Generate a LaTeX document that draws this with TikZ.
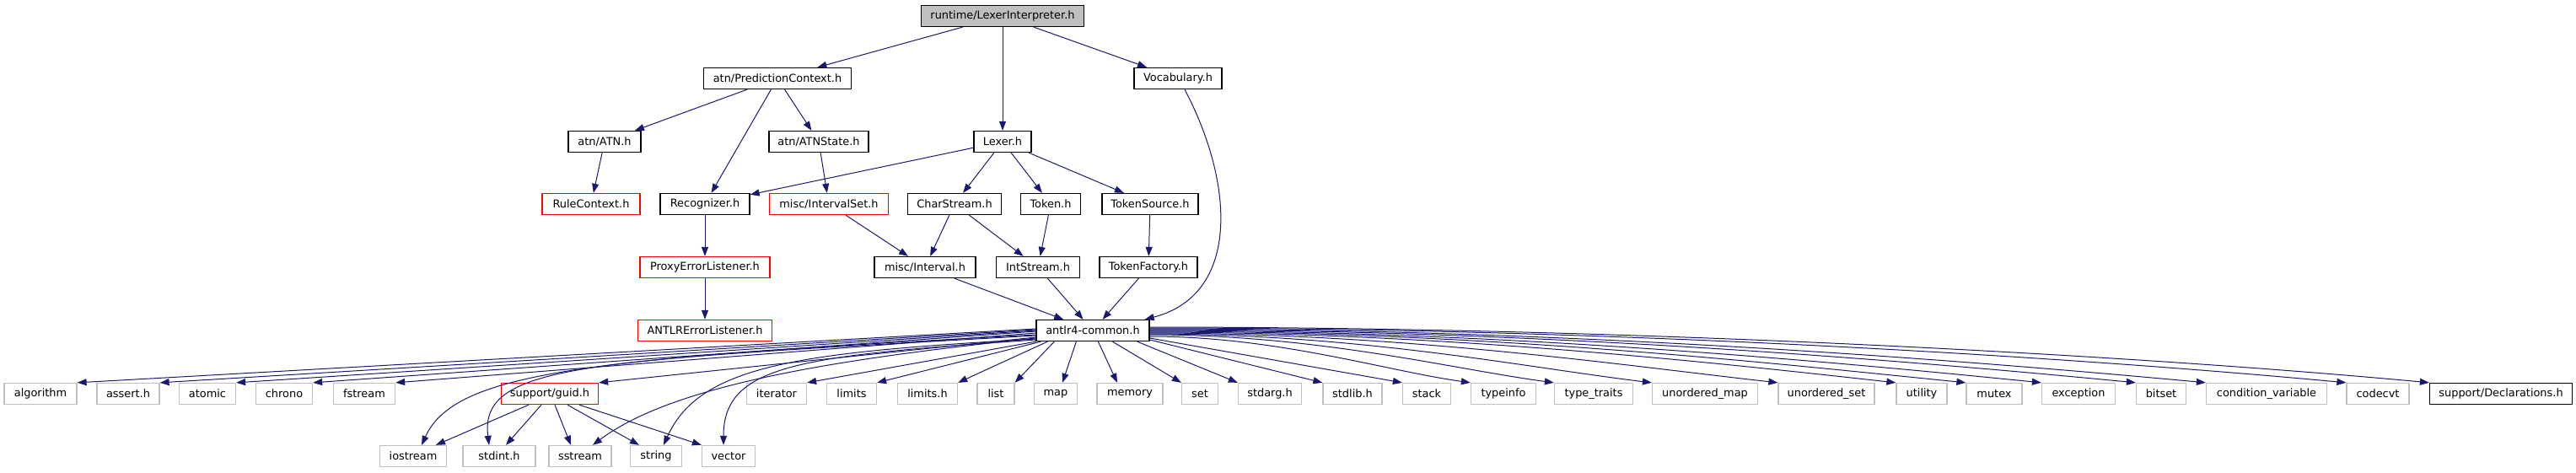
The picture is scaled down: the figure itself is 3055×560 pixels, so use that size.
\documentclass[tikz,border=0pt]{standalone}
\usepackage{fontspec}
\setmainfont{DejaVu Sans}
\usepackage{xcolor}
\usepackage{tikz}
\usetikzlibrary{arrows.meta, positioning, calc}

\definecolor{edgeblue}{HTML}{191970}
\definecolor{sysgray}{HTML}{BFBFBF}

\begin{document}
\begin{tikzpicture}[
    x=1pt, y=-1pt,
    every node/.style={font=\fontsize{12.9}{15}\selectfont, inner sep=0pt, minimum height=25pt},
    hdr/.style={draw=black, line width=1.3pt, fill=white, rectangle},
    missing/.style={draw=red, line width=1.3pt, fill=white, rectangle},
    sysh/.style={draw=sysgray, line width=1.3pt, fill=white, rectangle},
    root/.style={draw=black, line width=1.3pt, fill=sysgray, rectangle},
    dep/.style={draw=edgeblue, line width=1pt, -{Triangle[length=11pt, width=8pt]}}
]
    \useasboundingbox (0,0) rectangle (3055,560);

    % Project headers
    \node[root, minimum width=193pt] (root) at (1189,19) {runtime/LexerInterpreter.h};
    \node[hdr, minimum width=175pt] (pctx) at (922,93) {atn/PredictionContext.h};
    \node[hdr, minimum width=104pt] (vocab) at (1397,93) {Vocabulary.h};
    \node[hdr, minimum width=86pt] (atn) at (717,168) {atn/ATN.h};
    \node[hdr, minimum width=118pt] (atnstate) at (971,168) {atn/ATNState.h};
    \node[hdr, minimum width=68pt] (lexer) at (1189,168) {Lexer.h};
    \node[missing, minimum width=116pt] (rulectx) at (701,242) {RuleContext.h};
    \node[hdr, minimum width=106pt] (recog) at (836,242) {Recognizer.h};
    \node[missing, minimum width=141pt] (ivset) at (983,242) {misc/IntervalSet.h};
    \node[hdr, minimum width=111pt] (charstr) at (1132,242) {CharStream.h};
    \node[hdr, minimum width=71pt] (token) at (1246,242) {Token.h};
    \node[hdr, minimum width=114pt] (toksrc) at (1364,242) {TokenSource.h};
    \node[missing, minimum width=154pt] (proxy) at (836,317) {ProxyErrorListener.h};
    \node[hdr, minimum width=120pt] (interval) at (1097,317) {misc/Interval.h};
    \node[hdr, minimum width=99pt] (intstr) at (1231,317) {IntStream.h};
    \node[hdr, minimum width=116pt] (tokfac) at (1362,317) {TokenFactory.h};
    \node[missing, minimum width=159pt] (antlrerr) at (836,392) {ANTLRErrorListener.h};
    \node[hdr, minimum width=134pt] (common) at (1296,392) {antlr4-common.h};

    % Headers included by antlr4-common.h
    \node[sysh, minimum width=86pt] (algorithm) at (48,467) {algorithm};
    \node[sysh, minimum width=74pt] (assert) at (152,467) {assert.h};
    \node[sysh, minimum width=67pt] (atomic) at (246,467) {atomic};
    \node[sysh, minimum width=67pt] (chrono) at (337,467) {chrono};
    \node[sysh, minimum width=73pt] (fstream) at (432,467) {fstream};
    \node[missing, minimum width=115pt] (guid) at (652,467) {support/guid.h};
    \node[sysh, minimum width=71pt] (iterator) at (921,467) {iterator};
    \node[sysh, minimum width=59pt] (limits) at (1010,467) {limits};
    \node[sysh, minimum width=71pt] (limitsh) at (1100,467) {limits.h};
    \node[sysh, minimum width=44pt] (list) at (1181,467) {list};
    \node[sysh, minimum width=51pt] (map) at (1252,467) {map};
    \node[sysh, minimum width=78pt] (memory) at (1340,467) {memory};
    \node[sysh, minimum width=43pt] (set) at (1423,467) {set};
    \node[sysh, minimum width=75pt] (stdarg) at (1506,467) {stdarg.h};
    \node[sysh, minimum width=70pt] (stdlib) at (1604,467) {stdlib.h};
    \node[sysh, minimum width=57pt] (stack) at (1692,467) {stack};
    \node[sysh, minimum width=77pt] (typeinfo) at (1783,467) {typeinfo};
    \node[sysh, minimum width=93pt] (typetraits) at (1890,467) {type\_traits};
    \node[sysh, minimum width=125pt] (umap) at (2022,467) {unordered\_map};
    \node[sysh, minimum width=114pt] (uset) at (2166,467) {unordered\_set};
    \node[sysh, minimum width=60pt] (utility) at (2279,467) {utility};
    \node[sysh, minimum width=66pt] (mutex) at (2365,467) {mutex};
    \node[sysh, minimum width=87pt] (exception) at (2465,467) {exception};
    \node[sysh, minimum width=59pt] (bitset) at (2563,467) {bitset};
    \node[sysh, minimum width=143pt] (condvar) at (2688,467) {condition\_variable};
    \node[sysh, minimum width=74pt] (codecvt) at (2820,467) {codecvt};
    \node[hdr, minimum width=169pt] (decl) at (2966,467) {support/Declarations.h};

    % Bottom row
    \node[sysh, minimum width=79pt] (iostream) at (490,541) {iostream};
    \node[sysh, minimum width=86pt] (stdint) at (592,541) {stdint.h};
    \node[sysh, minimum width=74pt] (sstream) at (688,541) {sstream};
    \node[sysh, minimum width=61pt] (string) at (778,541) {string};
    \node[sysh, minimum width=63pt] (vector) at (864,541) {vector};

    % Upper includes
    \draw[dep] (root) -- (pctx);
    \draw[dep] (root) -- (lexer);
    \draw[dep] (root) -- (vocab);
    \draw[dep] (pctx) -- (atn);
    \draw[dep] (pctx) -- (recog);
    \draw[dep] (pctx) -- (atnstate);
    \draw[dep] (atn) -- (rulectx);
    \draw[dep] (atnstate) -- (ivset);
    \draw[dep] (lexer) -- (recog);
    \draw[dep] (lexer) -- (charstr);
    \draw[dep] (lexer) -- (token);
    \draw[dep] (lexer) -- (toksrc);
    \draw[dep] (recog) -- (proxy);
    \draw[dep] (proxy) -- (antlrerr);
    \draw[dep] (ivset) -- (interval);
    \draw[dep] (charstr) -- (interval);
    \draw[dep] (charstr) -- (intstr);
    \draw[dep] (token) -- (intstr);
    \draw[dep] (toksrc) -- (tokfac);
    \draw[dep] (interval) -- (common);
    \draw[dep] (intstr) -- (common);
    \draw[dep] (tokfac) -- (common);
    \draw[dep] ([xshift=8pt]vocab.south) .. controls (1465,220) and (1470,350) .. ([xshift=-6pt]common.north east);

    % antlr4-common.h, left side
    \foreach \t/\s in {algorithm/2pt, assert/1pt, atomic/0pt, chrono/-1pt, fstream/-3pt, guid/-8pt}
        \draw[dep] ([yshift=\s]common.west) -- (\t.north east);
    \draw[dep] ([yshift=-5pt]common.west) .. controls (700,425) and (540,440) .. ([xshift=10pt]iostream.north);
    \draw[dep] ([yshift=-6pt]common.west) .. controls (700,428) and (568,430) .. ([xshift=-12pt]stdint.north);
    \draw[dep] ([yshift=-9pt]common.west) .. controls (1000,425) and (800,455) .. ([xshift=15pt]sstream.north);
    \draw[dep] ([yshift=-10pt]common.west) .. controls (950,418) and (830,432) .. ([xshift=9pt]string.north);
    \draw[dep] ([yshift=-11pt]common.west) .. controls (950,422) and (858,432) .. ([xshift=-6pt]vector.north);
    \draw[dep] (common.south west) -- (iterator.north east);

    % antlr4-common.h, below
    \foreach \t/\s in {limits/6pt, limitsh/14pt, list/22pt}
        \draw[dep] ([xshift=\s]common.south west) -- (\t.north east);
    \draw[dep] ([xshift=48pt]common.south west) -- ([xshift=8pt]map.north);
    \draw[dep] ([xshift=74pt]common.south west) -- ([xshift=-15pt]memory.north);
    \draw[dep] ([xshift=91pt]common.south west) -- (set.north west);
    \draw[dep] ([xshift=-15pt]common.south east) -- (stdarg.north west);

    % antlr4-common.h, right side
    \draw[dep] ([yshift=-11pt]common.east) -- (stdlib.north west);
    \draw[dep] ([yshift=-9pt]common.east) -- (stack.north west);
    \foreach \t/\s/\a/\b/\c in {typeinfo/-7pt/150/100/14, typetraits/-5pt/200/120/16,
        umap/-4pt/250/150/18, uset/-3pt/300/180/20, utility/-2pt/350/200/22,
        mutex/-1pt/400/220/22, exception/0pt/420/240/24, bitset/1pt/470/260/25,
        condvar/2pt/500/280/26, codecvt/3pt/570/300/28, decl/4pt/600/320/30}
        \draw[dep] ([yshift=\s]common.east) .. controls +(\a,0) and +(-\b,-\c) .. (\t.north west);

    % support/guid.h
    \draw[dep] ([xshift=-25pt]guid.south) -- ([xshift=27pt]iostream.north);
    \draw[dep] ([xshift=-10pt]guid.south) -- ([xshift=8pt]stdint.north);
    \draw[dep] ([xshift=6pt]guid.south) -- ([xshift=-11pt]sstream.north);
    \draw[dep] ([xshift=21pt]guid.south) -- ([xshift=-20pt]string.north);
    \draw[dep] ([xshift=35pt]guid.south) -- (vector.north west);
\end{tikzpicture}
\end{document}
